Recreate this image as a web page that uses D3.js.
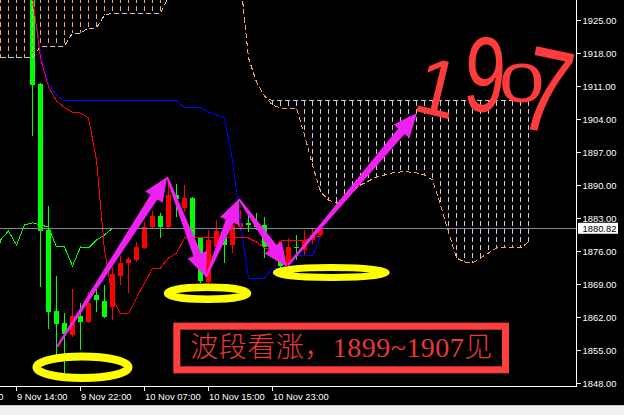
<!DOCTYPE html>
<html><head><meta charset="utf-8">
<script src="https://cdn.jsdelivr.net/npm/d3@7"></script>
<style>
html,body{margin:0;padding:0;background:#000;overflow:hidden;}
svg{display:block;}
</style></head><body>
<svg id="c" width="624" height="415"></svg>
<script>
// ---------------- data ----------------
const candleTimes = ["9 Nov 16:00","9 Nov 17:00","9 Nov 18:00","9 Nov 19:00","9 Nov 20:00","9 Nov 21:00","9 Nov 22:00","9 Nov 23:00",
 "10 Nov 01:00","10 Nov 02:00","10 Nov 03:00","10 Nov 04:00","10 Nov 05:00","10 Nov 06:00","10 Nov 07:00","10 Nov 08:00",
 "10 Nov 09:00","10 Nov 10:00","10 Nov 11:00","10 Nov 12:00","10 Nov 13:00","10 Nov 14:00","10 Nov 15:00","10 Nov 16:00",
 "10 Nov 17:00","10 Nov 18:00","10 Nov 19:00","10 Nov 20:00","10 Nov 21:00","10 Nov 22:00","10 Nov 23:00",
 "11 Nov 01:00","11 Nov 02:00","11 Nov 03:00","11 Nov 04:00","11 Nov 05:00","11 Nov 06:00"];
const firstCandleSlot = 4;
const open  = [1948.0,1911.42,1880.45,1863.27,1860.73,1858.18,1862.21,1860.94,1866.67,1865.39,1864.12,1870.70,1873.45,1874.09,1876.64,1881.09,1883.42,1881.09,1887.88,1885.12,1887.24,1878.76,1869.43,1876.85,1880.24,1877.27,1881.09,1881.94,1881.52,1881.52,1877.06,1874.52,1873.03,1876.85,1876.21,1878.33,1879.39];
const high  = [1950.0,1911.60,1885.55,1870.70,1862.85,1867.94,1864.97,1867.30,1868.15,1868.79,1872.61,1874.94,1874.73,1877.91,1882.15,1884.48,1884.06,1890.64,1890.21,1890.00,1887.45,1879.00,1880.45,1882.58,1880.67,1884.27,1884.70,1883.42,1884.00,1883.21,1877.91,1877.00,1878.76,1879.39,1880.45,1880.67,1881.73];
const low   = [1900.39,1868.36,1859.45,1853.94,1850.18,1857.76,1855.00,1860.73,1863.06,1861.79,1861.36,1868.79,1867.09,1873.67,1876.42,1880.67,1878.76,1880.67,1883.21,1884.27,1878.30,1869.21,1869.00,1875.79,1873.45,1875.58,1880.45,1880.03,1880.45,1874.52,1875.58,1872.39,1872.61,1874.09,1875.15,1877.50,1878.97];
const close = [1911.21,1880.30,1863.06,1860.52,1858.39,1862.21,1860.94,1864.97,1865.61,1862.00,1871.12,1873.45,1874.30,1876.85,1881.09,1883.42,1881.09,1887.88,1887.03,1887.24,1878.76,1869.64,1878.33,1880.24,1877.27,1881.52,1881.94,1881.52,1881.09,1876.85,1876.85,1872.82,1876.85,1876.64,1878.33,1879.39,1880.82];
const tenkan = [1929.88,1916.94,1910.79,1907.82,1906.44,1905.38,1905.27,1904.21,1895.30,1876.21,1866.03,1862.64,1862.64,1866.03,1869.21,1872.39,1872.39,1874.52,1875.58,1878.76,1878.76,1878.76,1878.76,1878.76,1878.76,1878.76,1878.76,1878.76,1877.91,1876.64,1876.21,1878.12,1878.33,1878.33,1878.33,1878.76,1879.18];
const kijun  = [1929.88,1918.21,1911.42,1909.09,1907.82,1907.82,1907.82,1907.82,1907.82,1907.82,1907.82,1907.82,1907.82,1907.82,1907.82,1907.82,1907.82,1907.82,1907.82,1906.44,1906.44,1906.44,1905.48,1904.85,1904.21,1895.30,1881.94,1870.27,1870.27,1870.27,1872.39,1872.39,1872.39,1875.15,1875.15,1875.15,1879.18];
const firstSpanSlot = -1;
const senkouA = [1950,1950,1950,1950,1950,1950,1950,1950,1950,1950,1950,1950,1950,1950,1950,1950,1950,1950,1950,1950,1950,1950,1950,1950,1950,1950,1950,1950,1950,1950,1950,
 1933.48,1916.94,1911.85,1908.88,1906.97,1906.33,1906.33,1906.33,1900.61,1894.24,1888.52,1886.82,1886.18,1886.82,1888.52,1890.00,1890.85,1891.70,1892.12,1892.55,1892.76,1892.76,1892.55,1892.12,1891.06,1885.76,1880.03,1874.52,1873.67,1873.45,1874.52,1875.58,1876.64,1876.64,1876.64,1876.64,1877.91];
const senkouB = [1916.94,1916.94,1916.94,1916.94,1916.94,1916.94,1919.48,1919.48,1919.48,1919.48,1922.24,1922.24,1923.30,1923.30,1926.06,1926.42,1926.42,1926.42,1926.42,1926.42,1926.42,1926.42,1929.88,
 1946.2,1946.2,1946.2,1946.2,1946.2,1946.2,1946.2,1946.2,1933.48,1916.94,1911.85,1908.88,
 1907.82,1907.82,1907.82,1907.82,1907.82,1907.82,1907.82,1907.82,1907.82,1907.82,1907.82,1907.82,1907.82,1907.82,1907.82,1907.82,1907.82,1907.82,1907.82,1907.82,1907.82,1907.82,1907.82,1907.82,1907.82,1907.82,1907.82,1907.82,1907.82,1907.82,1907.82,1907.82,1907.82];
const chikouShift = 26;
const priceTicks = [1848,1855,1862,1869,1876,1883,1890,1897,1904,1911,1918,1925];
const timeTickSlots = [-6,2,10,18,26,34];
const timeTickLabels = ["9 Nov 06:00","9 Nov 14:00","9 Nov 22:00","10 Nov 07:00","10 Nov 15:00","10 Nov 23:00"];
const lastPrice = 1880.82;

// annotations (in slot / price coordinates)
const arrowsData = [
  {from:[7.06,1855.64], to:[20.81,1891.70]},
  {from:[20.81,1891.70], to:[25.69,1870.48]},
  {from:[25.69,1870.48], to:[29.81,1887.03]},
  {from:[29.81,1887.03], to:[35.81,1872.61]},
  {from:[35.94,1873.03], to:[52.06,1905.27]}
];
const ellipsesData = [
  {c:[10.25,1851.33], rx:46, ry:10.8, sw:8},
  {c:[25.875,1867.03], rx:40, ry:6, sw:7.5},
  {c:[41.35,1871.44], rx:55, ry:5, sw:7}
];
const boxText = "波段看涨，1899~1907见";
const boxRange = {slots:[22.04,63.12], prices:[1860.05,1850.80]};
const handText = ["1","9","0","7"];

// ---------------- scales ----------------
const W = 624, H = 415, plotW = 577, plotH = 386;
const xs = d3.scaleLinear().domain([0, 72]).range([0.5, 576.5]);
const ys = d3.scaleLinear().domain([1847.364, 1929.242]).range([386, 0]);

const svg = d3.select("#c");
svg.append("rect").attr("width", W).attr("height", H).attr("fill", "#000");
svg.append("defs").append("clipPath").attr("id","plot").append("rect").attr("x",0).attr("y",0).attr("width",plotW).attr("height",plotH);
const plot = svg.append("g").attr("clip-path","url(#plot)");

// candles
const candles = close.map((c,k)=>({slot:firstCandleSlot+k, t:candleTimes[k], o:open[k], h:high[k], l:low[k], c}));
const cg = plot.append("g");
cg.selectAll("line").data(candles).join("line")
  .attr("x1", d=>xs(d.slot)).attr("x2", d=>xs(d.slot))
  .attr("y1", d=>ys(d.h)).attr("y2", d=>ys(d.l))
  .attr("stroke", d=>d.c>=d.o?"#ff0000":"#00ff00").attr("stroke-width",1).attr("shape-rendering","crispEdges");
cg.selectAll("rect").data(candles).join("rect")
  .attr("x", d=>xs(d.slot)-2.5).attr("width",5)
  .attr("y", d=>ys(Math.max(d.o,d.c)))
  .attr("height", d=>Math.max(1, Math.abs(ys(d.o)-ys(d.c))))
  .attr("fill", d=>d.c>=d.o?"#ff0000":"#00ff00").attr("shape-rendering","crispEdges");

// cloud hatch
const spans = senkouA.map((a,k)=>({slot:firstSpanSlot+k, a, b:senkouB[k]}));
plot.append("g").selectAll("line").data(spans).join("line")
  .attr("x1", d=>xs(d.slot)).attr("x2", d=>xs(d.slot))
  .attr("y1", d=>ys(Math.max(d.a,d.b))).attr("y2", d=>ys(Math.min(d.a,d.b)))
  .attr("stroke", d=>d.a>=d.b?"#f4a460":"#d8bfd8").attr("stroke-width",1)
  .attr("stroke-dasharray","5,3").attr("shape-rendering","crispEdges");

const line = d3.line().x(d=>xs(d[0])).y(d=>ys(d[1]));
plot.append("path").attr("d", line(spans.map(d=>[d.slot,d.b]))).attr("fill","none")
  .attr("stroke","#d8bfd8").attr("stroke-dasharray","5,3").attr("shape-rendering","crispEdges");
plot.append("path").attr("d", line(spans.map(d=>[d.slot,d.a]))).attr("fill","none")
  .attr("stroke","#f4a460").attr("stroke-dasharray","5,3").attr("stroke-dashoffset",4).attr("shape-rendering","crispEdges");

// chikou
const chik = candles.filter(d=>d.slot-chikouShift >= -2).map(d=>[d.slot-chikouShift, d.c]);
plot.append("path").attr("d", line(chik)).attr("fill","none").attr("stroke","#00ff00").attr("shape-rendering","crispEdges");
// kijun, tenkan
plot.append("path").attr("d", line(kijun.map((v,k)=>[firstCandleSlot+k,v]))).attr("fill","none").attr("stroke","#0000ff").attr("shape-rendering","crispEdges");
plot.append("path").attr("d", line(tenkan.map((v,k)=>[firstCandleSlot+k,v]))).attr("fill","none").attr("stroke","#ff0000").attr("shape-rendering","crispEdges");

// bid line
plot.append("line").attr("x1",0).attr("x2",plotW).attr("y1",Math.round(ys(lastPrice))+0.5).attr("y2",Math.round(ys(lastPrice))+0.5)
  .attr("stroke","#7f8a99");

// frame
svg.append("line").attr("x1",576.5).attr("x2",576.5).attr("y1",0).attr("y2",386.5).attr("stroke","#fff");
svg.append("line").attr("x1",0).attr("x2",577).attr("y1",386.5).attr("y2",386.5).attr("stroke","#fff");

// axes
const fontAxis = "'Liberation Sans', Arial, sans-serif";
const ya = svg.append("g").attr("transform","translate(576.5,0)")
  .call(d3.axisRight(ys).tickValues(priceTicks).tickFormat(d3.format(".2f")).tickSize(4).tickSizeOuter(0).tickPadding(2));
ya.select(".domain").remove();
ya.selectAll("line").attr("stroke","#fff").attr("shape-rendering","crispEdges");
ya.selectAll("text").attr("fill","#fff").style("font-family",fontAxis).style("font-size","9.4px");

const xa = svg.append("g").attr("transform","translate(-0.5,386.5)")
  .call(d3.axisBottom(xs).tickValues(timeTickSlots).tickFormat((d,i)=>timeTickLabels[i]).tickSize(4).tickSizeOuter(0).tickPadding(2.5));
xa.select(".domain").remove();
xa.selectAll("line").attr("stroke","#fff").attr("shape-rendering","crispEdges");
xa.selectAll("text").attr("fill","#fff").attr("text-anchor","start").attr("x",0.5).style("font-family",fontAxis).style("font-size","9.4px");

// last price label
const ly = ys(lastPrice);
svg.append("rect").attr("x",578).attr("y",ly-5.5).attr("width",40).attr("height",11).attr("fill","#fff");
svg.append("text").attr("x",582.5).attr("y",ly).attr("dy","0.35em").text(d3.format(".2f")(lastPrice))
  .attr("fill","#000").style("font-family",fontAxis).style("font-size","9.4px");

// bottom window strip
svg.append("rect").attr("x",0).attr("y",405).attr("width",W).attr("height",10).attr("fill","#f0f0f0");
svg.append("line").attr("x1",0).attr("x2",W).attr("y1",405.5).attr("y2",405.5).attr("stroke","#c8c8c8");

// ---------------- annotations ----------------
const ann = svg.append("g");
function arrowPoly(s, t, w0, w1, L, Wd) {
  const dx=t[0]-s[0], dy=t[1]-s[1], len=Math.hypot(dx,dy), ux=dx/len, uy=dy/len, nx=-uy, ny=ux;
  const b=[t[0]-ux*L, t[1]-uy*L];
  return [[s[0]+nx*w0,s[1]+ny*w0],[b[0]+nx*w1,b[1]+ny*w1],[b[0]+nx*Wd,b[1]+ny*Wd],t,
          [b[0]-nx*Wd,b[1]-ny*Wd],[b[0]-nx*w1,b[1]-ny*w1],[s[0]-nx*w0,s[1]-ny*w0]];
}
ann.selectAll("ellipse").data(ellipsesData).join("ellipse")
  .attr("cx",d=>xs(d.c[0])).attr("cy",d=>ys(d.c[1])).attr("rx",d=>d.rx).attr("ry",d=>d.ry)
  .attr("fill","none").attr("stroke","#ffff00").attr("stroke-width",d=>d.sw);
ann.selectAll("polygon").data(arrowsData).join("polygon")
  .attr("points", d=>arrowPoly([xs(d.from[0]),ys(d.from[1])],[xs(d.to[0]),ys(d.to[1])],1,4.2,24,10.5).map(p=>p.join(",")).join(" "))
  .attr("fill","#f020f0");

// red box
const bx0 = xs(boxRange.slots[0]), bx1 = xs(boxRange.slots[1]), by0 = ys(boxRange.prices[0]), by1 = ys(boxRange.prices[1]);
ann.append("rect").attr("x",bx0).attr("y",by0).attr("width",bx1-bx0).attr("height",by1-by0)
  .attr("fill","#000").attr("stroke","#ff3f3f").attr("stroke-width",7);
ann.append("text").attr("x",bx0+13.5).attr("y",by0+30.5).text(boxText)
  .attr("fill","#e8383a").attr("textLength",302).attr("lengthAdjust","spacing")
  .style("font-family","'Liberation Serif','Noto Sans CJK SC',serif").style("font-size","28px").style("font-weight","300");

// handwritten 1907
const handTransforms = ["translate(411,110) rotate(13.6) scale(0.75,0.81)",
                        "translate(462,110) rotate(4) scale(0.74,1.07)",
                        "translate(499,102) scale(0.82,0.55)",
                        "translate(515,126) rotate(12) scale(0.85,1.2)"];
ann.selectAll("text.hand").data(handText).join("text").attr("class","hand")
  .attr("transform",(d,i)=>handTransforms[i]).text(d=>d)
  .attr("fill","#ff3c3c")
  .style("font-family","'Liberation Sans',sans-serif").style("font-size","100px");
</script>
</body></html>
